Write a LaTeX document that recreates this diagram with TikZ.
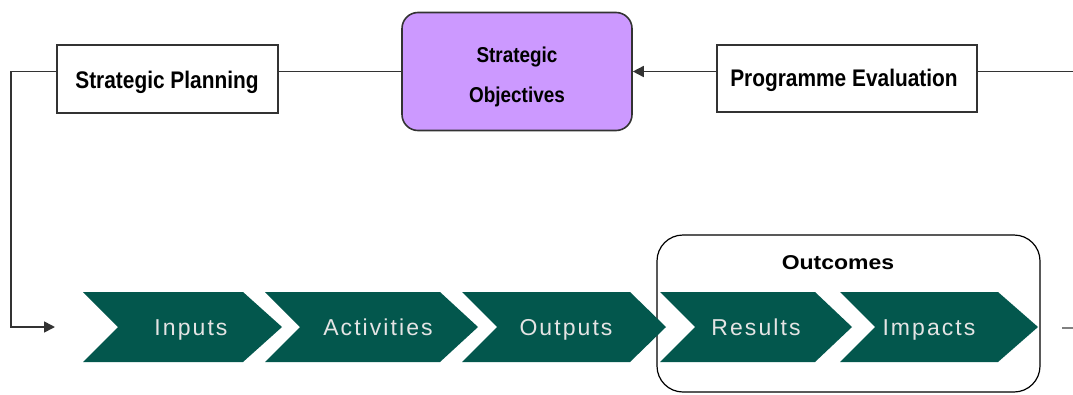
\documentclass[tikz,border=0pt]{standalone}
\usepackage{fontspec}
\setmainfont{Liberation Sans}
\usetikzlibrary{arrows.meta,calc}
\definecolor{chevgreen}{HTML}{03574D}
\definecolor{objpurple}{HTML}{CC99FF}
\definecolor{linegray}{HTML}{333333}
\definecolor{chevtext}{HTML}{E4E4E4}
\newcommand{\chevshape}[3]{% left, right, tip
  \fill[chevgreen] (#1,292) -- (#2,292) -- (#3,327) -- (#2,362) -- (#1,362) -- ($(#1,327)+(35,0)$) -- cycle;}
\begin{document}
\begin{tikzpicture}[x=1pt,y=-1pt,
  planbox/.style={draw=linegray, line width=1.8pt, fill=white, inner sep=0pt},
  topfont/.style={font=\fontsize{24}{28}\selectfont\bfseries, anchor=base, inner sep=0pt},
  conn/.style={draw=linegray, line width=1.6pt},
  chevlabel/.style={text=chevtext, inner sep=0pt, anchor=base, font=\fontsize{23}{27}\selectfont\addfontfeatures{LetterSpace=9}},
  objlabel/.style={font=\fontsize{21.5}{26}\selectfont\bfseries, anchor=base, inner sep=0pt},
]
\useasboundingbox (0,0) rectangle (1073,394);

% top row
\node[planbox, minimum width=221pt, minimum height=68pt] (SP) at (167.5,79) {};
\node[topfont] (SPt) at (167,88) {\scalebox{0.87}[1]{Strategic Planning}};
\node[planbox, minimum width=260pt, minimum height=67pt] (PE) at (847,78.5) {};
\node[topfont] (PEt) at (844,86) {\scalebox{0.87}[1]{Programme Evaluation}};
\node[draw=linegray, line width=1.6pt, fill=objpurple, rounded corners=16pt,
      minimum width=230pt, minimum height=118pt, inner sep=0pt] (SO) at (517,71.5) {};
\node[objlabel] (SOa) at (517,62) {\scalebox{0.88}[1]{Strategic}};
\node[objlabel] (SOb) at (517,102) {\scalebox{0.88}[1]{Objectives}};

\coordinate (rightend) at (1073,71.5);
\coordinate (leftcorner) at (11,71.5);
\coordinate (arrowend) at (55,327);

\draw[conn] (SP.east |- SO.west) -- (SO.west);
\draw[conn, -{Triangle[length=11pt,width=11pt]}] (PE.west |- SO.east) -- (SO.east);
\draw[conn] (PE.east |- SO.east) -- (rightend);
\draw[conn, -{Triangle[length=11pt,width=11pt]}] (SP.west |- SO.west) -- (leftcorner) |- (arrowend);

% outcomes box
\node[draw=black, line width=1.2pt, rounded corners=26pt, minimum width=383pt,
      minimum height=157pt, inner sep=0pt] (OC) at (848.5,313.5) {};
\node[font=\fontsize{20}{24}\selectfont\bfseries, inner sep=0pt, anchor=base] (OCt) at (838,269) {\scalebox{1.15}[1]{Outcomes}};

% chevrons
\chevshape{83}{243}{282}
\chevshape{265}{440}{478}
\chevshape{462}{630}{666}
\chevshape{660}{815}{852}
\chevshape{840}{998}{1038}
\node[chevlabel] (in) at (191,335) {Inputs};
\node[chevlabel] (act) at (378,335) {Activities};
\node[chevlabel] (out) at (566,335) {Outputs};
\node[chevlabel] (res) at (756,335) {Results};
\node[chevlabel] (imp) at (929,335) {Impacts};

% small dash at right
\coordinate (dashA) at (1062,328);
\coordinate (dashB) at (1073,328);
\draw[draw=gray, line width=1.5pt] (dashA) -- (dashB);
\end{tikzpicture}
\end{document}
